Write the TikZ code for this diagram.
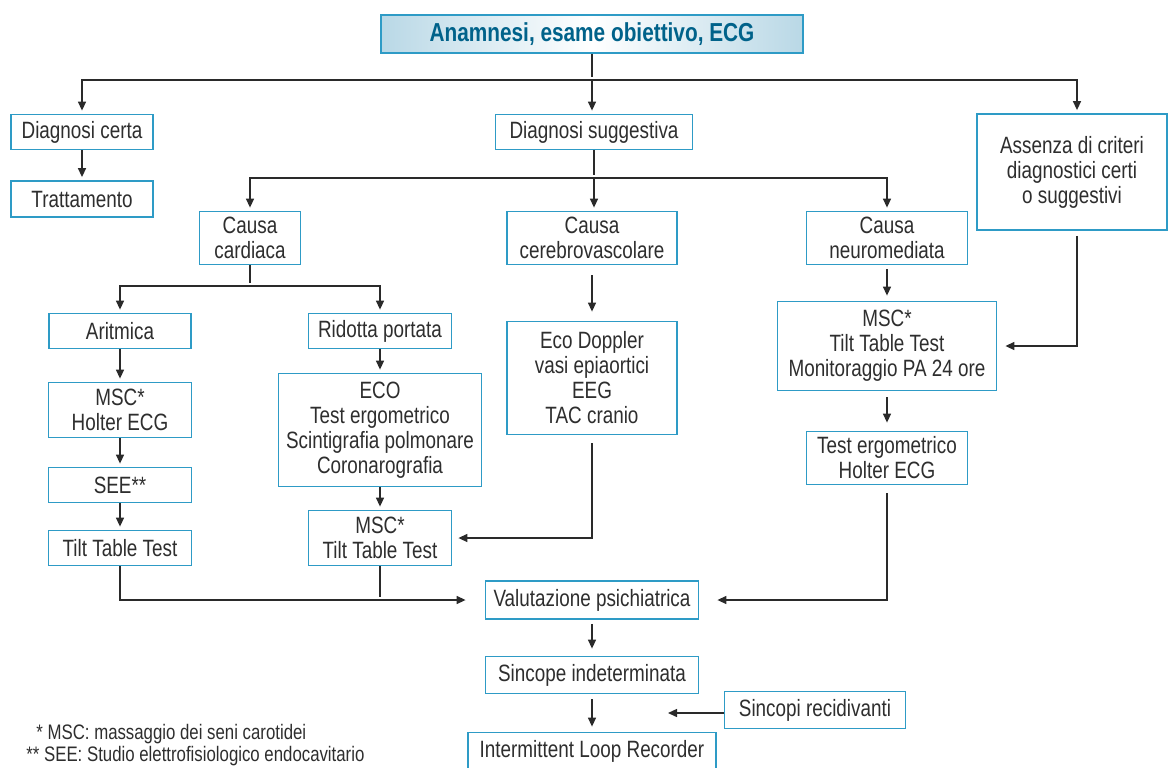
\documentclass[tikz,border=0pt]{standalone}
\usepackage{fontspec}
\setmainfont{Liberation Sans}[FakeStretch=0.8]
\usetikzlibrary{arrows, arrows.meta}
\definecolor{boxblue}{HTML}{2E9BC6}
\definecolor{topfill}{HTML}{B9D8E6}
\definecolor{toptext}{HTML}{00628A}
\definecolor{linegray}{HTML}{2A2A2A}
\definecolor{txtgray}{HTML}{2E2E2E}

\begin{document}
\begin{tikzpicture}[x=0.5pt, y=-0.5pt,
    box/.style={draw=boxblue, line width=0.9pt, fill=white, align=center, inner sep=0pt, text=txtgray, font=\fontsize{11.8}{12.5}\selectfont},
    sz/.style 2 args={minimum width=#1*0.5pt, minimum height=#2*0.5pt},
    conn/.style={linegray, line width=0.7pt, shorten >=1.5pt},
    note/.style={anchor=west, inner sep=0pt, text=txtgray, font=\fontsize{10.5}{12}\selectfont},
    >={Triangle[length=4.5pt, width=4pt]}]
    \useasboundingbox (0,0) rectangle (1168,767);
    %
    \node[box, sz={422}{38}, left color=topfill, right color=topfill, middle color=white, text=toptext, font=\fontsize{13}{14}\selectfont\bfseries] (top) at (592,34) {Anamnesi, esame obiettivo, ECG};
    \node[box, sz={142}{35}] (dcerta) at (82,132) {Diagnosi certa};
    \node[box, sz={142}{36}] (tratt) at (82,199) {Trattamento};
    \node[box, sz={197}{35}] (dsugg) at (594,132) {Diagnosi suggestiva};
    \node[box, sz={190}{116}] (assenza) at (1072,172) {Assenza di criteri\\diagnostici certi\\o suggestivi};
    %
    \node[box, sz={101}{53}] (ccard) at (250,238) {Causa\\cardiaca};
    \node[box, sz={170}{53}] (ccereb) at (592,238) {Causa\\cerebrovascolare};
    \node[box, sz={161}{53}] (cneuro) at (887,238) {Causa\\neuromediata};
    %
    \node[box, sz={142}{35}] (aritm) at (120,331) {Aritmica};
    \node[box, sz={143}{55}] (mschol) at (120,410) {MSC*\\Holter ECG};
    \node[box, sz={143}{35}] (see) at (120,485) {SEE**};
    \node[box, sz={143}{35}] (tilt) at (120,548) {Tilt Table Test};
    %
    \node[box, sz={143}{35}] (ridotta) at (380,331) {Ridotta portata};
    \node[box, sz={203}{113}] (eco) at (380,430) {ECO\\Test ergometrico\\Scintigrafia polmonare\\Coronarografia};
    \node[box, sz={143}{55}] (msctilt) at (380,538) {MSC*\\Tilt Table Test};
    %
    \node[box, sz={170}{113}] (doppler) at (592,378) {Eco Doppler\\vasi epiaortici\\EEG\\TAC cranio};
    %
    \node[box, sz={219}{89}] (mscneuro) at (887,346) {MSC*\\Tilt Table Test\\Monitoraggio PA 24 ore};
    \node[box, sz={161}{53}] (testerg) at (887,458) {Test ergometrico\\Holter ECG};
    %
    \node[box, sz={213}{38}] (valut) at (592,600) {Valutazione psichiatrica};
    \node[box, sz={213}{37}] (sincope) at (592,675) {Sincope indeterminata};
    \node[box, sz={248}{37}] (loop) at (592,751) {Intermittent Loop Recorder};
    \node[box, sz={181}{37}] (recid) at (815,710) {Sincopi recidivanti};
    %
    \node[note] (fn1) at (36,734) {* MSC: massaggio dei seni carotidei};
    \node[note] (fn2) at (26,756) {** SEE: Studio elettrofisiologico endocavitario};
    %
    \coordinate (j1) at (592,80);
    \coordinate (j1r) at (1077,80);
    \coordinate (j2) at (594,178);
    \coordinate (j3) at (250,286);
    \coordinate (rin) at (668,713);
    %
    \draw[conn] (top) -- (j1);
    \draw[conn, ->] (j1) -| (dcerta);
    \draw[conn, ->] (j1) -- (j1 |- dsugg.north);
    \draw[conn, ->] (j1) -- (j1r) -- (j1r |- assenza.north);
    \draw[conn, ->] (dcerta) -- (tratt);
    %
    \draw[conn] (dsugg) -- (j2);
    \draw[conn, ->] (j2) -| (ccard);
    \draw[conn, ->] (j2) -- (j2 |- ccereb.north);
    \draw[conn, ->] (j2) -| (cneuro);
    %
    \draw[conn] (ccard) -- (j3);
    \draw[conn, ->] (j3) -| (aritm);
    \draw[conn, ->] (j3) -| (ridotta);
    \draw[conn, ->] (aritm) -- (mschol);
    \draw[conn, ->] (mschol) -- (see);
    \draw[conn, ->] (see) -- (tilt);
    \draw[conn, ->] (ridotta) -- (eco);
    \draw[conn, ->] (eco) -- (msctilt);
    %
    \draw[conn, ->, shorten <=5pt, shorten >=4.5pt] (ccereb) -- (doppler);
    \draw[conn, ->, shorten <=4pt, shorten >=3pt] (doppler) |- (msctilt);
    %
    \draw[conn, ->, shorten <=2pt, shorten >=2.5pt] (cneuro) -- (mscneuro);
    \draw[conn, ->, shorten <=3pt, shorten >=4pt] (mscneuro) -- (testerg);
    \draw[conn, ->, shorten <=2.5pt, shorten >=4pt] (j1r |- assenza.south) |- (mscneuro);
    %
    \draw[conn, ->, shorten >=9.5pt] (tilt) |- (valut);
    \draw[conn] (msctilt) -- (msctilt |- valut);
    \draw[conn, ->, shorten <=4pt, shorten >=9pt] (testerg) |- (valut);
    \draw[conn, ->, shorten <=2pt, shorten >=3.5pt] (valut) -- (sincope);
    \draw[conn, ->, shorten <=2.5pt, shorten >=2.5pt] (sincope) -- (loop);
    \draw[conn, ->, shorten >=0pt] (recid.west |- rin) -- (rin);
\end{tikzpicture}
\end{document}
